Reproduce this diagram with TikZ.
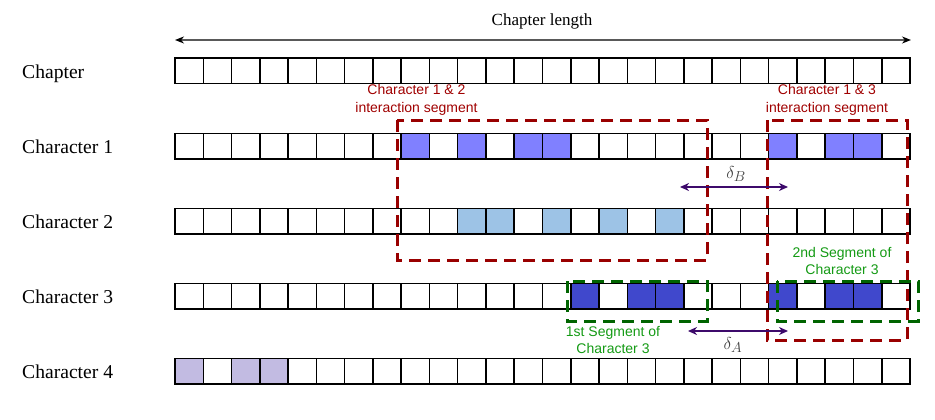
\documentclass[tikz,border=0pt]{standalone}
\usepackage{fontspec}
\setmainfont{Liberation Serif}
\newfontfamily\arialfont{Liberation Sans}
\usetikzlibrary{arrows.meta,backgrounds}
\definecolor{cone}{HTML}{8080FF}
\definecolor{ctwo}{HTML}{9DC3E6}
\definecolor{cthree}{HTML}{4048CC}
\definecolor{cfour}{HTML}{C2BBE2}
\definecolor{boxred}{HTML}{990000}
\definecolor{txtred}{HTML}{A00000}
\definecolor{boxgreen}{HTML}{006400}
\definecolor{txtgreen}{HTML}{149A14}
\definecolor{deltacol}{HTML}{3D0A6B}
\definecolor{deltatxt}{HTML}{404040}
\begin{document}
\begin{tikzpicture}[x=1pt,y=-1pt,
  cell/.style={draw=black, line width=1.5pt, minimum width=28.27pt, minimum height=25.5pt, inner sep=0pt, outer sep=0pt},
  rowlabel/.style={anchor=base west, inner sep=0pt, font=\fontsize{19.6}{22}\selectfont},
  redbox/.style={draw=boxred, line width=3pt, dash pattern=on 12pt off 7pt},
  greenbox/.style={draw=boxgreen, line width=3pt, dash pattern=on 12pt off 7pt},
  redlabel/.style={align=center, text=txtred, inner sep=0pt, font=\arialfont\fontsize{14}{17.5}\selectfont},
  greenlabel/.style={align=center, text=txtgreen, inner sep=0pt, font=\arialfont\fontsize{14}{17}\selectfont},
  darr/.style={draw=deltacol, line width=1.5pt, {Stealth[length=9pt,width=8pt]}-{Stealth[length=9pt,width=8pt]}},
  deltalabel/.style={text=deltatxt, inner sep=0pt, font=\fontsize{19}{22}\selectfont},
  lenarr/.style={draw=black!65, line width=1.5pt, {Stealth[length=9pt,width=7pt,black]}-{Stealth[length=9pt,width=7pt,black]}}
]
\useasboundingbox (0,0) rectangle (935,420);

% chapter length
\coordinate (cl1) at (175,40);
\coordinate (cl2) at (911,40);
\draw[lenarr] (cl1) -- (cl2);
\node[anchor=base, inner sep=0pt, font=\fontsize{17}{20}\selectfont] (cltxt) at (542,26) {Chapter length};

% row labels
\node[rowlabel] (lab0) at (22,78) {Chapter};
\node[rowlabel] (lab1) at (22,153) {Character 1};
\node[rowlabel] (lab2) at (22,228) {Character 2};
\node[rowlabel] (lab3) at (22,303) {Character 3};
\node[rowlabel] (lab4) at (22,378) {Character 4};

% cells
\foreach \r/\yy in {0/71,1/146,2/221,3/296,4/371}{
  \foreach \c in {0,...,25}{
    \node[cell] (r\r c\c) at ({175+28.27*(\c+0.5)},\yy) {};
  }
}

% fills
\begin{scope}[on background layer]
  \foreach \c in {8,10,12,13,21,23,24}{\fill[cone] (r1c\c.south west) rectangle (r1c\c.north east);}
  \foreach \c in {10,11,13,15,17}{\fill[ctwo] (r2c\c.south west) rectangle (r2c\c.north east);}
  \foreach \c in {14,16,17,21,23,24}{\fill[cthree] (r3c\c.south west) rectangle (r3c\c.north east);}
  \foreach \c in {0,2,3}{\fill[cfour] (r4c\c.south west) rectangle (r4c\c.north east);}
\end{scope}

% red interaction boxes
\coordinate (rbAtl) at (397,120);
\coordinate (rbAbr) at (707,260);
\draw[redbox] (rbAtl) rectangle (rbAbr);
\coordinate (rbBtl) at (767,120);
\coordinate (rbBbr) at (907,340);
\draw[redbox] (rbBtl) rectangle (rbBbr);
\node[redlabel] (rlabA) at (416.5,100) {Character 1 \& 2\\interaction segment};
\node[redlabel] (rlabB) at (827,100) {Character 1 \& 3\\interaction segment};

% green segment boxes
\coordinate (gbAtl) at (567,281);
\coordinate (gbAbr) at (707,321);
\draw[greenbox] (gbAtl) rectangle (gbAbr);
\coordinate (gbBtl) at (777,281);
\coordinate (gbBbr) at (918,321);
\draw[greenbox] (gbBtl) rectangle (gbBbr);
\node[greenlabel] (glabA) at (613,340) {1st Segment of\\Character 3};
\node[greenlabel] (glabB) at (842,261) {2nd Segment of\\Character 3};

% delta arrows
\coordinate (dBl) at (680,187);
\coordinate (dBr) at (788,187);
\draw[darr] (dBl) -- (dBr);
\node[deltalabel] (dBtxt) at (736,174) {$\delta_B$};
\coordinate (dAl) at (688,331);
\coordinate (dAr) at (788,331);
\draw[darr] (dAl) -- (dAr);
\node[deltalabel] (dAtxt) at (733,345) {$\delta_A$};
\end{tikzpicture}
\end{document}
